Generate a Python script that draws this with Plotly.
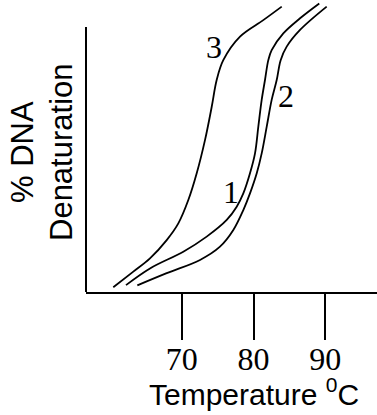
import plotly.graph_objects as go

# Data (temperature in °C, % denaturation)
curve1_t = [62.24, 65.58, 70.22, 73.48, 76.27, 77.66, 78.58, 79.51, 80.21, 80.67, 81.14, 81.6, 82.06, 82.53, 84.15, 86.48, 89.16]
curve1_y = [2.6, 8.9, 15.2, 20.9, 27.2, 32.2, 37.2, 44.8, 52.3, 62.4, 72.5, 80.0, 87.5, 91.3, 97.6, 103.3, 108.9]

curve2_t = [63.82, 67.91, 72.55, 75.33, 77.19, 78.58, 79.51, 80.45, 81.14, 81.84, 82.53, 83.23, 83.78, 84.62, 86.48, 90.19]
curve2_y = [2.5, 7.1, 12.1, 17.1, 23.4, 30.9, 37.2, 44.8, 52.3, 62.4, 72.5, 80.0, 87.5, 92.6, 98.9, 107.7]

curve3_t = [60.47, 63.26, 65.58, 67.91, 69.53, 70.92, 72.09, 73.25, 74.18, 74.87, 75.79, 78.12, 81.36, 83.93]
curve3_y = [1.8, 7.7, 12.7, 19.6, 25.9, 34.7, 44.8, 57.4, 69.9, 80.0, 87.5, 96.4, 102.6, 107.7]

curve_labels = ["1", "2", "3"]
label_t = [76.9, 84.46, 74.5]
label_y = [37.7, 74.0, 92.5]

tick_vals = [70, 80, 90]
tick_text = ["70", "80", "90"]

x_range = [56.67, 97.2]
y_range = [0, 110.2]
y_axis_top = 100

fig = go.Figure()
for t, y in [(curve1_t, curve1_y), (curve2_t, curve2_y), (curve3_t, curve3_y)]:
    fig.add_trace(go.Scatter(x=t, y=y, mode="lines",
                             line=dict(color="black", width=1.8, shape="spline", smoothing=1.0),
                             showlegend=False, hoverinfo="skip"))

for lab, t, y in zip(curve_labels, label_t, label_y):
    fig.add_annotation(x=t, y=y, xref="x", yref="y", text=lab, showarrow=False,
                       font=dict(family="Liberation Serif", size=32, color="black"),
                       xanchor="center", yanchor="middle")

# y-axis line (only up to the 100% level)
fig.add_shape(type="line", xref="paper", x0=0, x1=0, yref="y", y0=0, y1=y_axis_top,
              line=dict(color="black", width=2))

# y-axis title (two lines)
fig.add_annotation(xref="paper", yref="paper", x=0, xshift=-64, y=(292 - 152) / 292,
                   text="% DNA", textangle=-90, showarrow=False,
                   font=dict(family="Liberation Sans", size=31, color="black"),
                   xanchor="center", yanchor="middle")
fig.add_annotation(xref="paper", yref="paper", x=0, xshift=-25, y=(292 - 152) / 292,
                   text="Denaturation", textangle=-90, showarrow=False,
                   font=dict(family="Liberation Sans", size=31, color="black"),
                   xanchor="center", yanchor="middle")

# x-axis title
fig.add_annotation(xref="paper", yref="paper", x=(254 - 86) / 291, y=-(392 - 292) / 292,
                   text="Temperature <sup>0</sup>C", showarrow=False,
                   font=dict(family="Liberation Sans", size=30, color="black"),
                   xanchor="center", yanchor="middle")

fig.update_layout(
    template="none",
    width=377, height=415,
    margin=dict(l=86, r=0, t=0, b=123, pad=0, autoexpand=False),
    paper_bgcolor="white", plot_bgcolor="white",
    xaxis=dict(range=x_range, tickvals=tick_vals, ticktext=tick_text,
               ticks="outside", ticklen=46, tickwidth=2, tickcolor="black",
               showline=True, linewidth=2, linecolor="black",
               showgrid=False, zeroline=False, automargin=False,
               ticklabelstandoff=-8,
               tickfont=dict(family="Liberation Serif", size=32, color="black")),
    yaxis=dict(range=y_range, showline=False, showticklabels=False, ticks="",
               showgrid=False, zeroline=False, automargin=False),
)

fig.write_html("out.html", config={"displayModeBar": False},
               post_script="document.body.style.margin='0';document.body.style.overflow='hidden';")
